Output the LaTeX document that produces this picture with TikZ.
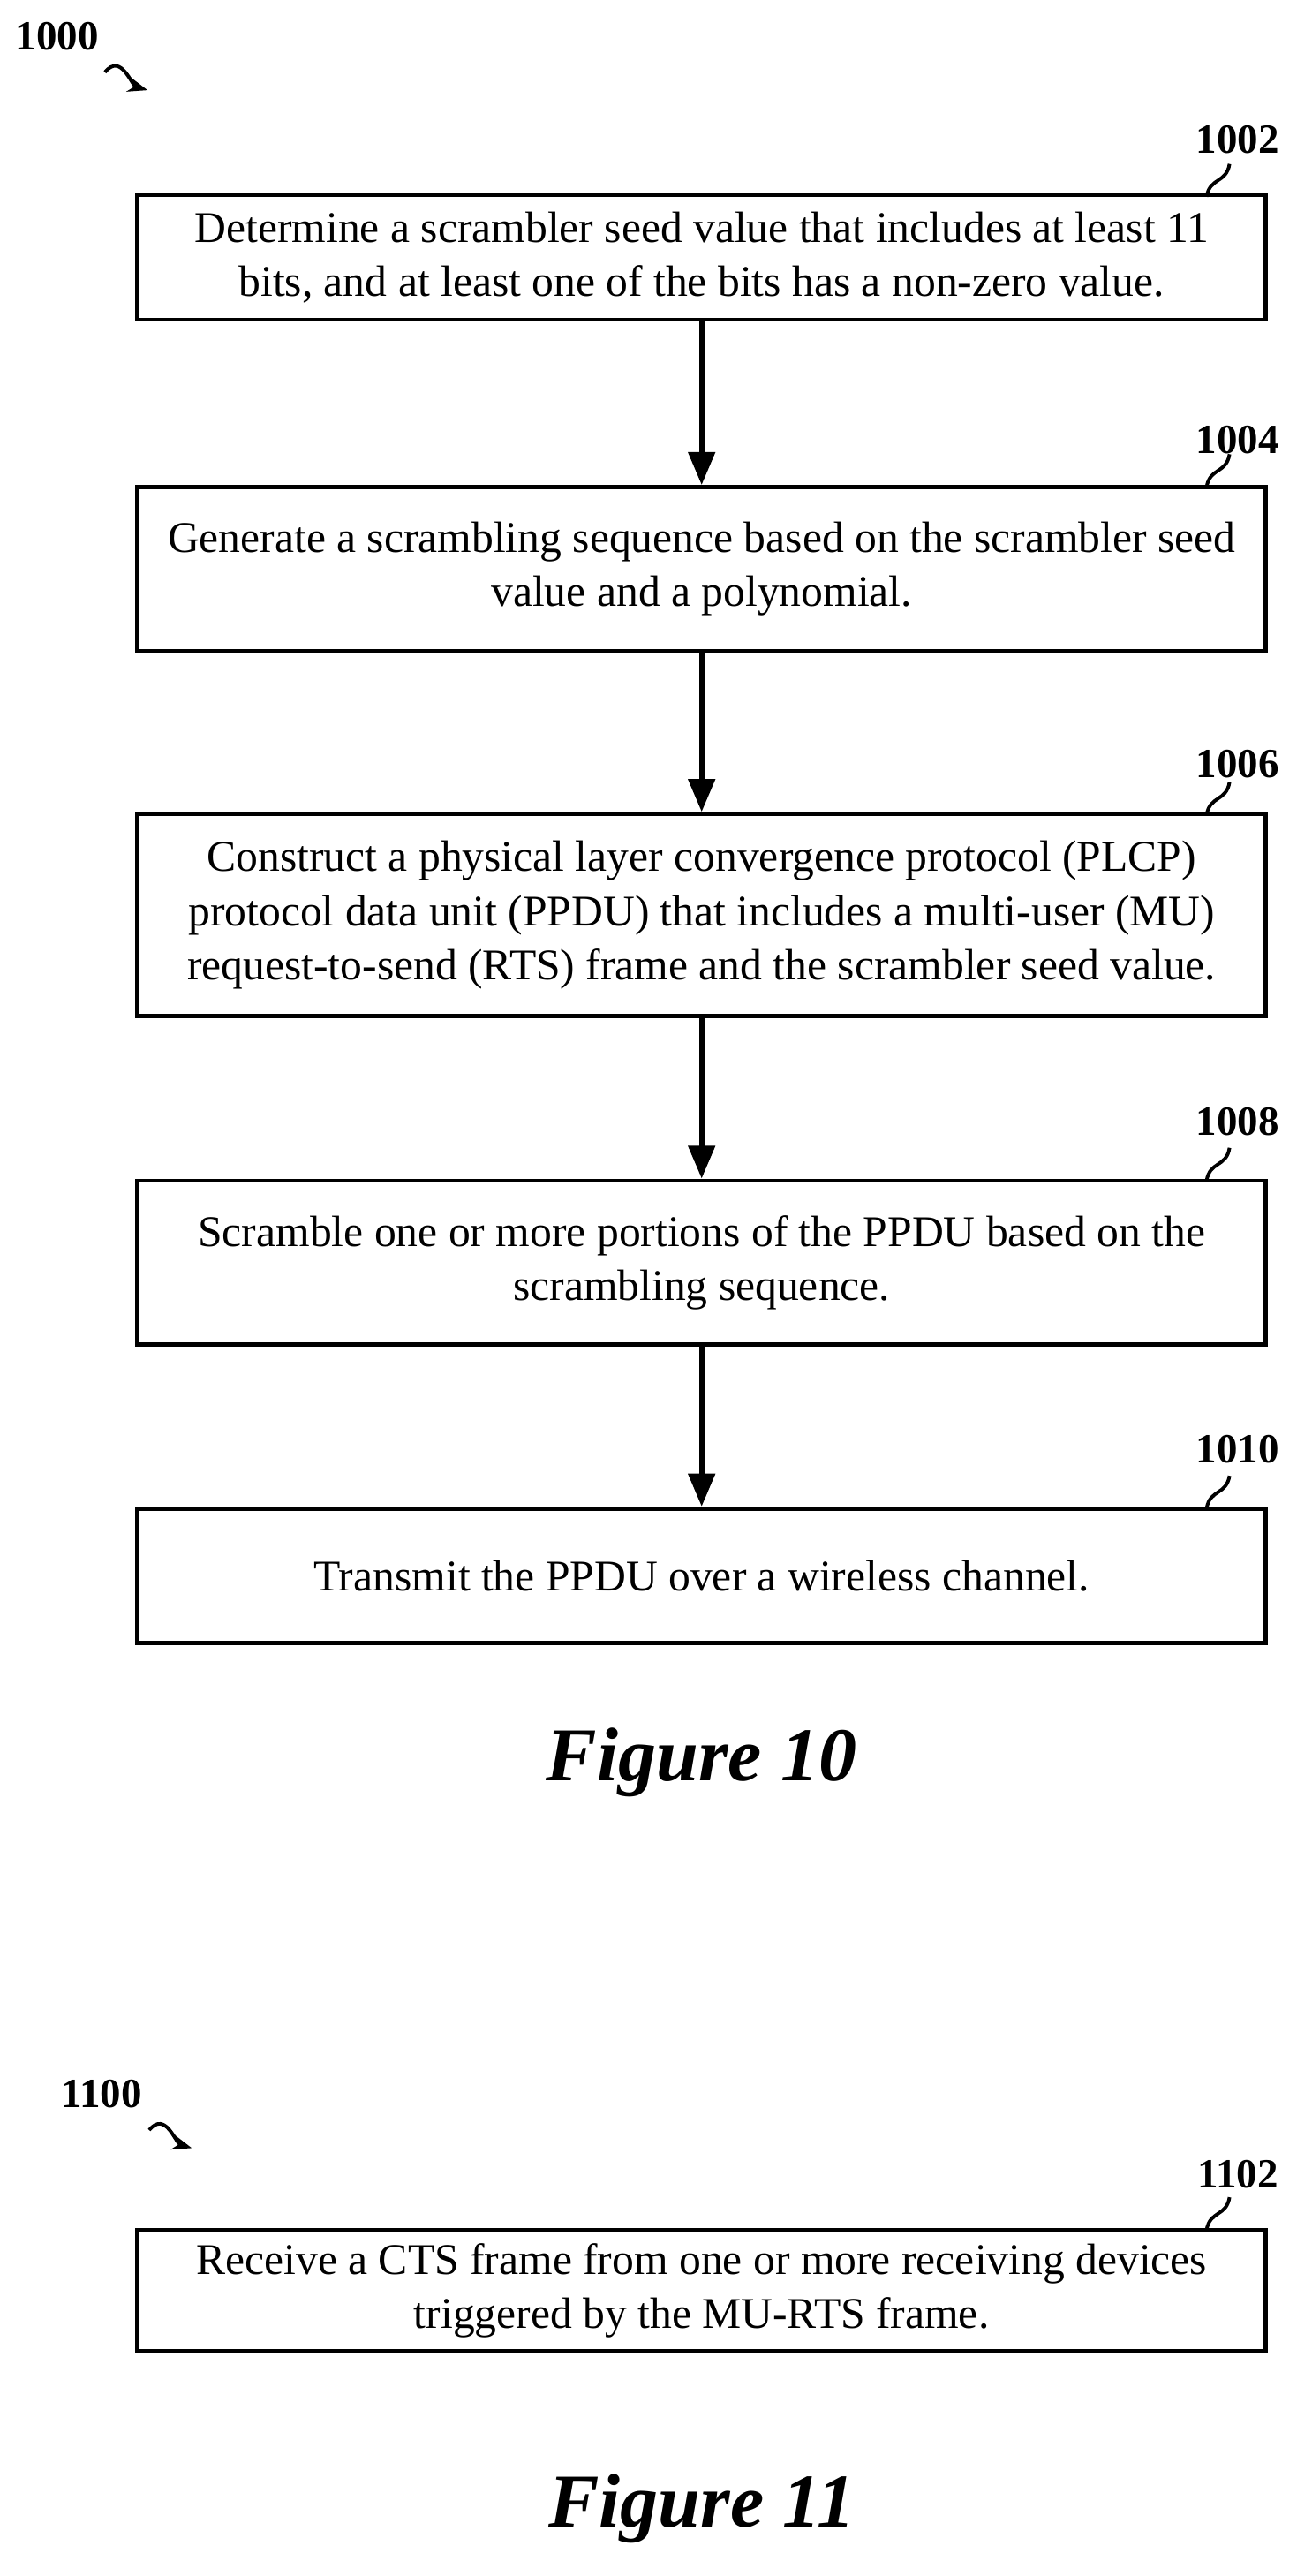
\documentclass[tikz,border=0pt]{standalone}
\usepackage{fontspec}
\setmainfont{Liberation Serif}
\usetikzlibrary{positioning,arrows.meta}
\begin{document}
\begin{tikzpicture}[x=0.025cm,y=-0.025cm, semithick,
            stepbox/.style ={draw, line width=1.8pt, minimum width=17.2cm, align=center,
            font=\fontsize{19}{23.5}\selectfont, inner sep=0pt},
            flow/.style ={-{Triangle[length=5mm,width=4mm]}, line width=2.2pt},
            ref/.style ={font=\fontsize{18}{20}\bfseries},
            tick/.style ={line width=1.5pt},
            fig/.style ={font=\fontsize{33}{36}\bfseries\itshape}]

        \useasboundingbox (0,0) rectangle (800,1571);

        %figure 10
        \node[ref] (n1000) at (35,22) {1000};
        \draw[tick,-{Stealth[length=3mm]}] (64,44) .. controls (74,32) and (80,52) .. (90,55);

        \node[stepbox, minimum height=1.9cm] (s1002) at (428,157) {Determine a scrambler seed value that includes at least 11\\bits, and at least one of the bits has a non-zero value.};
        \node[stepbox, minimum height=2.5cm] (s1004) at (428,347) {Generate a scrambling sequence based on the scrambler seed\\value and a polynomial.};
        \node[stepbox, minimum height=3.08cm] (s1006) at (428,558) {Construct a physical layer convergence protocol (PLCP)\\protocol data unit (PPDU) that includes a multi-user (MU)\\request-to-send (RTS) frame and the scrambler seed value.};
        \node[stepbox, minimum height=2.5cm] (s1008) at (428,770) {Scramble one or more portions of the PPDU based on the\\scrambling sequence.};
        \node[stepbox, minimum height=2.05cm] (s1010) at (428,961) {Transmit the PPDU over a wireless channel.};

        \node[ref] (n1002) at (755,85) {1002};
        \node[ref] (n1004) at (755,268) {1004};
        \node[ref] (n1006) at (755,466) {1006};
        \node[ref] (n1008) at (755,684) {1008};
        \node[ref] (n1010) at (755,884) {1010};

        \foreach \n/\y in {1002/120, 1004/297, 1006/497, 1008/720, 1010/920}
            \draw[tick] (736,\y) .. controls (738,\y-12) and (748,\y-8) .. (750,\y-20);

        \draw[flow] (s1002) -- (s1004);
        \draw[flow] (s1004) -- (s1006);
        \draw[flow] (s1006) -- (s1008);
        \draw[flow] (s1008) -- (s1010);

        \node[fig] (f10) at (428,1075) {Figure 10};

        %figure 11
        \node[ref] (n1100) at (62,1277) {1100};
        \draw[tick,-{Stealth[length=3mm]}] (91,1299) .. controls (101,1287) and (107,1307) .. (117,1310);

        \node[stepbox, minimum height=1.85cm] (s1102) at (428,1397) {Receive a CTS frame from one or more receiving devices\\triggered by the MU-RTS frame.};
        \node[ref] (n1102) at (755,1326) {1102};
        \draw[tick] (736,1360) .. controls (738,1348) and (748,1352) .. (750,1340);

        \node[fig] (f11) at (428,1530) {Figure 11};
\end{tikzpicture}
\end{document}
